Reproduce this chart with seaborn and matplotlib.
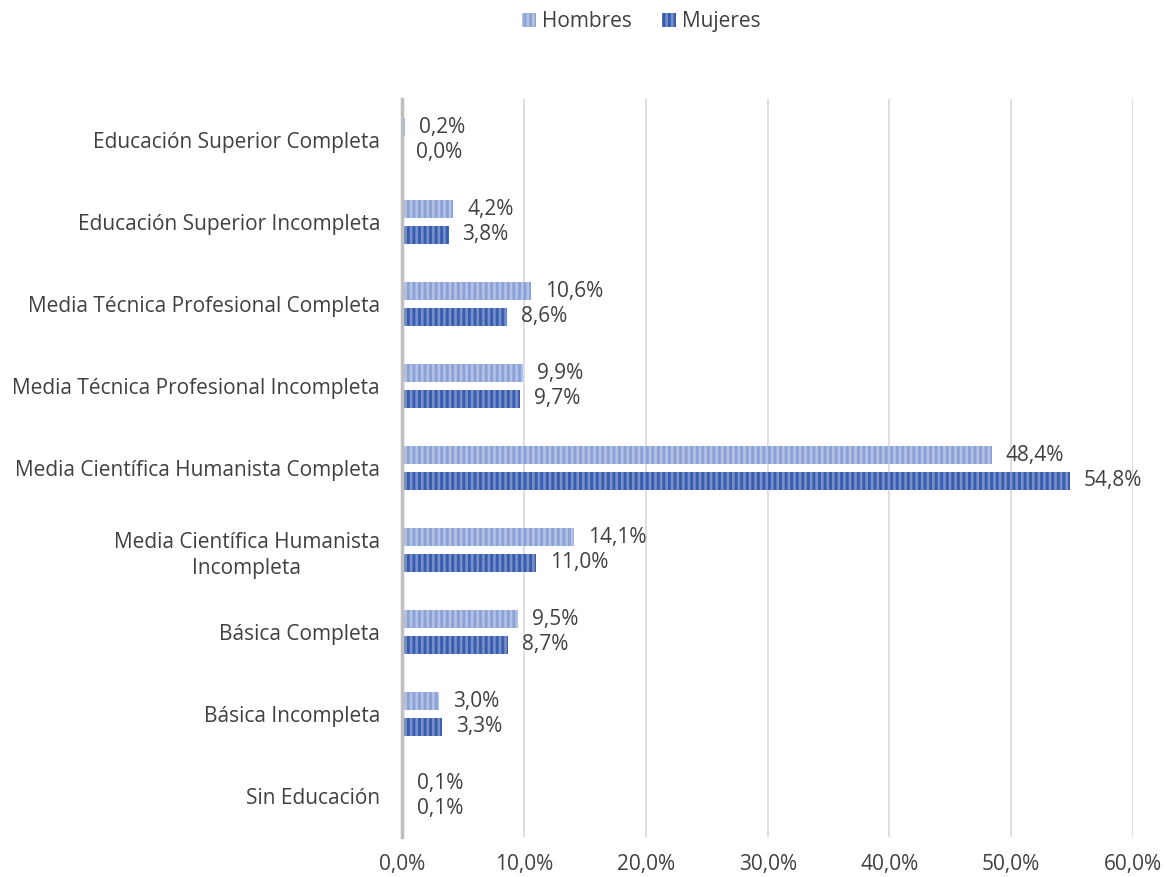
import matplotlib
matplotlib.use("Agg")
import matplotlib.pyplot as plt
import matplotlib.patches as mpatches
import seaborn as sns
import pandas as pd

categories = [
    "Educación Superior Completa",
    "Educación Superior Incompleta",
    "Media Técnica Profesional Completa",
    "Media Técnica Profesional Incompleta",
    "Media Científica Humanista Completa",
    "Media Científica Humanista\nIncompleta",
    "Básica Completa",
    "Básica Incompleta",
    "Sin Educación",
]
hombres = [0.2, 4.2, 10.6, 9.9, 48.4, 14.1, 9.5, 3.0, 0.1]
mujeres = [0.0, 3.8, 8.6, 9.7, 54.8, 11.0, 8.7, 3.3, 0.1]
series = ["Hombres", "Mujeres"]
xticks = [0, 10, 20, 30, 40, 50, 60]

df = pd.DataFrame({
    "cat": categories * 2,
    "val": hombres + mujeres,
    "serie": [series[0]] * len(categories) + [series[1]] * len(categories),
})

face = {"Hombres": "#B3C2E6", "Mujeres": "#7891CB"}
hatchc = {"Hombres": "#8DA3D6", "Mujeres": "#3A5EAD"}

sns.set_theme(style="white")
plt.rcParams["font.family"] = ["Open Sans", "DejaVu Sans"]
plt.rcParams["hatch.linewidth"] = 2.2

FS = 15
fig = plt.figure(figsize=(11.66, 8.77), dpi=100)
ax = fig.add_axes([0.345, 0.0456, 0.6267, 0.8415])

sns.barplot(data=df, y="cat", x="val", hue="serie", order=categories,
            hue_order=series, orient="h", width=0.63, gap=0.3,
            palette=face, ax=ax, legend=False, linewidth=0)

for cont, s, vals in zip(ax.containers, series, [hombres, mujeres]):
    for p in cont:
        p.set_facecolor(face[s])
        p.set_edgecolor(hatchc[s])
        p.set_hatch("|||")
        p.set_linewidth(0)
    ax.bar_label(cont, labels=[f"{v:.1f}%".replace(".", ",") for v in vals],
                 padding=10, fontsize=FS, color="#404040")

ax.set_xlim(0, 60)
ax.set_xticks(xticks)
ax.set_xticklabels([f"{v:.1f}%".replace(".", ",") for v in xticks],
                   fontsize=FS, color="#404040")
ax.tick_params(axis="y", labelsize=FS, labelcolor="#404040", pad=16, length=0)
ax.tick_params(axis="x", pad=12, length=0)
for lab in ax.get_yticklabels():
    lab.set_multialignment("center")
    lab.set_linespacing(1.35)
ax.set_xlabel("")
ax.set_ylabel("")
ax.grid(axis="x", color="#D9D9D9", linewidth=1.2)
ax.set_axisbelow(True)
for side in ["top", "right", "bottom"]:
    ax.spines[side].set_visible(False)
ax.spines["left"].set_color("#BFBFBF")
ax.spines["left"].set_linewidth(2.5)
ax.spines["left"].set_zorder(5)

handles = [mpatches.Patch(facecolor=face[s], edgecolor=hatchc[s], hatch="|||",
                          linewidth=0, label=s) for s in series]
fig.legend(handles=handles, loc="center", bbox_to_anchor=(0.55, 0.975), ncol=2,
           frameon=False, fontsize=FS, labelcolor="#404040",
           handlelength=0.7, handleheight=0.7, handletextpad=0.3, columnspacing=1.4)

fig.savefig("out.png", dpi=100)
